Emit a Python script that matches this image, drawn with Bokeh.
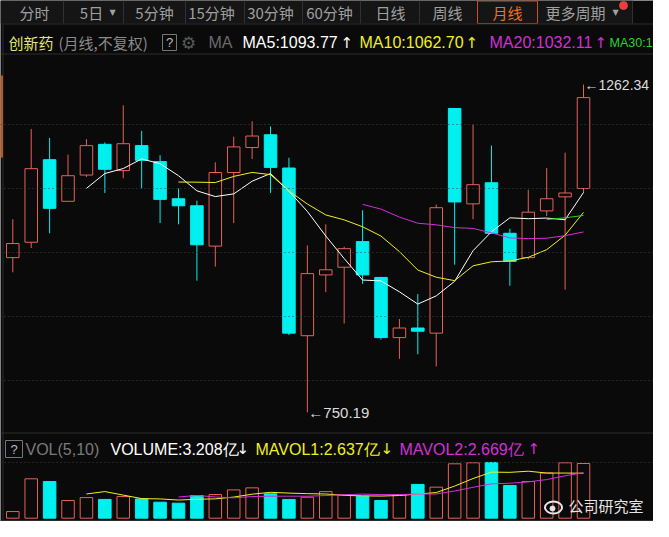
from bokeh.plotting import figure
from bokeh.models import Range1d, Span, ColumnDataSource
from bokeh.core.properties import value
from bokeh.embed import file_html
from bokeh.resources import INLINE

# ---------------- data (monthly candles) ----------------
candles = list(range(1, 33))
opens = [992, 1016, 1145, 1080, 1121, 1169, 1128, 1167, 1142, 1084, 1073, 1010, 1125, 1164, 1184, 1132,
         870, 965, 977, 1017, 961, 867, 882, 874, 1225, 1076, 1109, 1030, 992, 1065, 1087, 1100]
highs = [1052, 1193, 1179, 1153, 1177, 1172, 1230, 1190, 1152, 1100, 1081, 1141, 1181, 1205, 1197, 1148,
         1011, 1044, 1009, 1066, 962, 896, 935, 1075, 1225, 1200, 1167, 1037, 1098, 1132, 1156, 1262.34]
lows = [969, 1007, 1030, 1080, 1118, 1093, 1116, 1100, 1046, 1044, 956, 978, 1046, 1146, 1093, 871,
        750.19, 938, 889, 951, 864, 834, 841, 822, 981, 1052, 1029, 948, 989, 1057, 942, 1093]
closes = [1014, 1131, 1069, 1120, 1167, 1130, 1170, 1144, 1083, 1073, 1012, 1125, 1165, 1182, 1133, 874,
          967, 973, 1006, 965, 867, 882, 877, 1070, 1079, 1106, 1030, 986, 1063, 1084, 1093, 1242]

ma5 = [1100.2, 1123.4, 1131.2, 1146.2, 1138.8, 1120.0, 1096.4, 1087.4, 1091.6, 1111.4, 1123.4, 1095.8,
       1064.2, 1025.8, 990.6, 957.0, 955.6, 938.6, 919.4, 932.2, 955.0, 1002.8, 1032.4, 1054.2, 1052.8,
       1053.8, 1051.2, 1093.77]
ma10 = [1110.1, 1109.9, 1109.3, 1118.9, 1125.1, 1121.7, 1096.1, 1075.8, 1058.7, 1051.0, 1040.2, 1025.7,
        1001.4, 972.6, 961.4, 956.0, 979.2, 985.5, 986.8, 992.5, 1004.4, 1027.0, 1062.70]
ma20 = [1075.15, 1067.8, 1055.35, 1045.75, 1043.25, 1038.85, 1037.65, 1030.65, 1022.75, 1021.75,
        1022.3, 1026.35, 1032.11]
ma30 = [1051.57, 1054.2, 1057.9]

volumes = [0.39, 2.31, 2.15, 1.04, 1.21, 1.10, 1.27, 1.13, 0.94, 0.88, 1.33, 1.39, 1.66, 1.78, 1.43, 1.10,
           1.23, 1.56, 1.37, 1.29, 1.04, 1.39, 1.98, 1.82, 3.19, 3.25, 3.27, 1.92, 2.15, 2.65, 3.25, 3.208]
mavol5 = [1.420, 1.562, 1.354, 1.150, 1.130, 1.064, 1.110, 1.134, 1.240, 1.408, 1.518, 1.472, 1.440,
          1.420, 1.338, 1.310, 1.298, 1.330, 1.414, 1.504, 1.884, 2.326, 2.702, 2.690, 2.756, 2.648,
          2.648, 2.637]
mavol10 = [1.242, 1.336, 1.244, 1.195, 1.269, 1.291, 1.291, 1.287, 1.330, 1.373, 1.414, 1.385, 1.385,
           1.417, 1.421, 1.597, 1.812, 2.016, 2.052, 2.130, 2.266, 2.487, 2.669]

grid_levels = [800, 900, 1000, 1100, 1200]
tab_labels = ["分时", "5日", "5分钟", "15分钟", "30分钟", "60分钟", "日线", "周线", "月线", "更多周期"]

# ---------------- style ----------------
BG = "#0a0a0a"
UP = "#e8605a"
DOWN = "#00f0f0"
LATIN = "Liberation Sans"
CJK = "Noto Sans CJK SC"
ARROW = "DejaVu Sans"

p = figure(width=653, height=521, output_backend="svg", toolbar_location=None,
           x_range=Range1d(0.3319, 35.8018), y_range=Range1d(579.69, 1393.75),
           x_axis_location=None, y_axis_location=None, min_border=0,
           background_fill_color=BG, border_fill_color=BG, outline_line_color=None)
p.grid.grid_line_color = None
p.grid.visible = False
p.extra_y_ranges = {"vol": Range1d(-0.1935, 30.364), "px": Range1d(521, 0)}
p.extra_x_ranges = {"px": Range1d(0, 653)}
PX = dict(x_range_name="px", y_range_name="px")

# ---------------- layout chrome ----------------
p.quad(left=[0], right=[632], top=[0], bottom=[23], fill_color="#151515", line_color=None, **PX)
seps = [63, 123, 185, 244, 302, 360, 419, 537, 632]
p.segment(x0=seps, y0=[0] * len(seps), x1=seps, y1=[23] * len(seps), line_color="#303030", **PX)
p.quad(left=[477], right=[537], top=[0.5], bottom=[23], fill_color="#151515", line_color="#c8501a", **PX)
for yy in [23.5, 53.5, 432.5, 520]:
    p.add_layout(Span(location=yy, dimension="width", y_range_name="px", line_color="#2c2c2c", line_width=1))
p.segment(x0=[2.5], y0=[24], x1=[2.5], y1=[521], line_color="#2c2c2c", **PX)
p.quad(left=[0], right=[2.5], top=[75], bottom=[157], fill_color="#b4581e", line_color=None, **PX)
for lv in grid_levels:
    p.add_layout(Span(location=lv, dimension="width", line_color="#404040", line_dash="1 3", line_width=1))
p.add_layout(Span(location=max(volumes), dimension="width", y_range_name="vol",
                  line_color="#404040", line_dash="1 3", line_width=1))


def txt(x, y, s, color, size="15px", font=CJK, align="left"):
    p.text(x=[x], y=[y], text=[s], text_color=color, text_font=value(font),
           text_font_size=value(size), text_align=align, text_baseline="middle", **PX)


tab_x = [34, 91, 154, 211, 270, 329, 390, 447, 507, 575]
for lab, cx in zip(tab_labels, tab_x):
    txt(cx, 12, lab, "#f07020" if lab == "月线" else "#a0a0a0", "15px", CJK, "center")
txt(112, 12, "▼", "#a0a0a0", "8px", ARROW, "center")
txt(615, 12, "▼", "#a0a0a0", "8px", ARROW, "center")
p.scatter(x=[623], y=[5], size=8, color="#e8403a", **PX)

# header row
txt(8, 42, "创新药", "#e2e27a", "15px", CJK)
txt(58, 42, "(月线,不复权)", "#8a8a8a", "15px", CJK)
p.quad(left=[162], right=[176], top=[34], bottom=[50], fill_color=None, line_color="#777777", **PX)
txt(169, 42, "?", "#bbbbbb", "13px", LATIN, "center")
txt(188, 42, "⚙", "#5a5a5a", "17px", ARROW, "center")
txt(208, 42, "MA", "#6a6a6a", "16px", LATIN)
txt(242, 42, "MA5:1093.77", "#ffffff", "16px", LATIN)
txt(340, 42, "↑", "#ffffff", "15px", ARROW)
txt(359, 42, "MA10:1062.70", "#f0f020", "16px", LATIN)
txt(465, 42, "↑", "#f0f020", "15px", ARROW)
txt(489, 42, "MA20:1032.11", "#d030d8", "16px", LATIN)
txt(594, 42, "↑", "#d030d8", "15px", ARROW)
txt(609, 42, "MA30:1", "#30d030", "12.5px", LATIN)

# volume header
p.quad(left=[5], right=[22], top=[440], bottom=[457], fill_color=None, line_color="#777777", **PX)
txt(13.5, 448.5, "?", "#bbbbbb", "13px", LATIN, "center")
txt(25, 448.5, "VOL(5,10)", "#7a7a7a", "16px", LATIN)
txt(110, 448.5, "VOLUME:3.208亿", "#ffffff", "16px", LATIN)
txt(236, 448.5, "↓", "#ffffff", "15px", ARROW)
txt(255, 448.5, "MAVOL1:2.637亿", "#f0f020", "16px", LATIN)
txt(380, 448.5, "↓", "#f0f020", "15px", ARROW)
txt(399, 448.5, "MAVOL2:2.669亿", "#d030d8", "16px", LATIN)
txt(527, 448.5, "↑", "#d030d8", "15px", ARROW)

# ---------------- candles ----------------
up = [c >= o for o, c in zip(opens, closes)]
src = ColumnDataSource(dict(
    x=candles, high=highs, low=lows,
    top=[max(o, c) for o, c in zip(opens, closes)],
    bottom=[min(o, c) for o, c in zip(opens, closes)],
    line=[UP if u else DOWN for u in up],
    fill=[BG if u else DOWN for u in up],
))
p.segment(x0="x", y0="low", x1="x", y1="high", line_color="line", line_width=1, source=src)
p.vbar(x="x", top="top", bottom="bottom", width=0.68, fill_color="fill", line_color="line",
       line_width=1, source=src)

p.line(candles[4:], ma5, line_color="#ffffff", line_width=1)
p.line(candles[9:], ma10, line_color="#f0f020", line_width=1)
p.line(candles[19:], ma20, line_color="#d030d8", line_width=1)
p.line(candles[29:], ma30, line_color="#30d030", line_width=1)

p.text(x=[candles[-1]], y=[highs[-1]], text=["←1262.34"], x_offset=1, text_color="#dcdcdc",
       text_font=value(LATIN), text_font_size=value("14px"), text_baseline="middle")
lo_i = lows.index(min(lows))
p.text(x=[candles[lo_i]], y=[lows[lo_i]], text=["←750.19"], x_offset=1, text_color="#dcdcdc",
       text_font=value(LATIN), text_font_size=value("15px"), text_baseline="middle")

# ---------------- volume ----------------
vup = [True] + [closes[i] >= closes[i - 1] for i in range(1, len(closes))]
vsrc = ColumnDataSource(dict(
    x=candles, v=volumes,
    line=[UP if u else DOWN for u in vup],
    fill=[BG if u else DOWN for u in vup],
))
p.vbar(x="x", top="v", bottom=0, width=0.68, fill_color="fill", line_color="line", line_width=1,
       source=vsrc, y_range_name="vol")
p.line(candles[4:], mavol5, line_color="#f0f020", line_width=1, y_range_name="vol")
p.line(candles[9:], mavol10, line_color="#d030d8", line_width=1, y_range_name="vol")

# ---------------- watermark ----------------
p.ellipse(x=[553], y=[507], width=[17], height=[12], width_units="screen", height_units="screen",
          fill_color=None, line_color="#e6e6e6", line_width=2, **PX)
p.scatter(x=[552], y=[508], size=5, color="#e6e6e6", **PX)
txt(568, 505, "公司研究室", "#e6e6e6", "15px", CJK)

open("out.html", "w").write(file_html(p, INLINE))
